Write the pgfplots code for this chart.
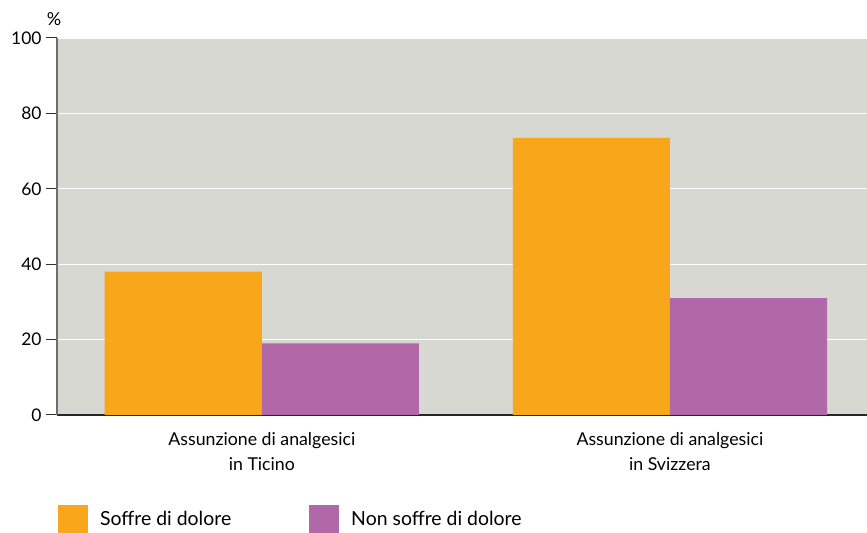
\documentclass[border=0pt]{standalone}
\usepackage{pgfplots}
\pgfplotsset{compat=1.18}
\usepackage{fontspec}
\setmainfont{Lato}
\definecolor{orangebar}{HTML}{F8A71B}
\definecolor{purplebar}{HTML}{B068A8}
\definecolor{panel}{HTML}{D8D8D3}
\definecolor{axisgray}{HTML}{6E6E6E}
\begin{document}
\begin{tikzpicture}[x=1bp,y=1bp]
\path[use as bounding box] (0,0) rectangle (867,533);
\begin{axis}[
  at={(57bp,118bp)}, anchor=south west,
  scale only axis,
  width=810bp, height=377bp,
  ymin=0, ymax=100,
  xmin=-0.502, xmax=1.483,
  ytick={0,20,40,60,80,100},
  xtick={0,1},
  xticklabels={{Assunzione di analgesici\\in Ticino},{Assunzione di analgesici\\in Svizzera}},
  xticklabel style={align=center, font=\fontsize{17.8}{25}\selectfont, yshift=-3bp},
  yticklabel style={font=\fontsize{17.5}{20}\selectfont, xshift=-1bp},
  /pgf/number format/assume math mode=true,
  axis background/.style={fill=panel},
  axis x line*=bottom,
  axis y line*=left,
  x axis line style={draw=black!85, line width=1.2bp},
  y axis line style={draw=axisgray, line width=1.5bp},
  x tick style={draw=none},
  y tick style={draw=black!80, line width=1bp},
  tick align=outside,
  major tick length=11bp,
  ymajorgrids,
  grid style={draw=white, line width=1.2bp},
  ylabel={\%},
  ylabel style={rotate=-90, at={(rel axis cs:0,1)}, anchor=south, xshift=-3bp, yshift=9bp, font=\fontsize{18}{20}\selectfont},
  legend style={
    at={(rel axis cs:0,0)}, anchor=north west,
    xshift=-2bp, yshift=-88bp,
    draw=none, fill=none,
    legend columns=2,
    font=\fontsize{19.5}{22}\selectfont,
    /tikz/every even column/.append style={column sep=76bp},
    nodes={inner sep=2bp},
  },
  legend cell align=left,
  legend image code/.code={\fill[#1] (0bp,-14bp) rectangle (30bp,14bp);},
]
\addplot[ybar, bar width=0.385, bar shift=-0.1925, fill=orangebar, draw=none] coordinates {(0,38) (1,73.5)};
\addlegendentry{\hspace{10bp}Soffre di dolore}
\addplot[ybar, bar width=0.385, bar shift=0.1925, fill=purplebar, draw=none] coordinates {(0,19) (1,31)};
\addlegendentry{\hspace{10bp}Non soffre di dolore}
\end{axis}
\end{tikzpicture}
\end{document}
